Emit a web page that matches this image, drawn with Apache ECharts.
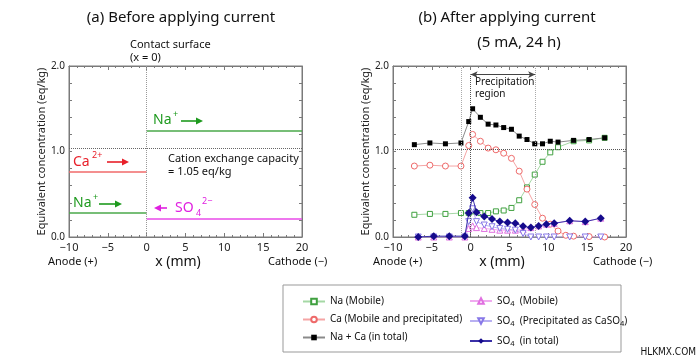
<!DOCTYPE html>
<html><head><meta charset="utf-8">
<script src="https://cdn.jsdelivr.net/npm/echarts@6/dist/echarts.min.js"></script>
<style>html,body{margin:0;padding:0;background:#fff}#c{width:700px;height:364px}</style>
</head><body><div id="c"></div>
<script>
// ---------- data ----------
const xTickLabels = [-10, -5, 0, 5, 10, 15, 20];
const yTickLabels = [0, 1, 2];
// (a) before applying current
const aNaLeftX = [-10, 0],  aNaLeft = [0.28, 0.28];
const aCaLeftX = [-10, 0],  aCaLeft = [0.76, 0.76];
const aNaRightX = [0, 20],  aNaRight = [1.24, 1.24];
const aSO4RightX = [0, 20], aSO4Right = [0.21, 0.21];
const aCEC = 1.04;
const aContactX = 0;
// (b) after applying current
const xCation = [-7.25, -5.25, -3.25, -1.25, -0.25, 0.25, 1.25, 2.25, 3.25, 4.25, 5.25, 6.25, 7.25, 8.25, 9.25, 10.25, 11.25, 13.25, 15.25, 17.25];
const naMobile = [0.26, 0.27, 0.27, 0.28, 0.28, 0.30, 0.28, 0.28, 0.30, 0.31, 0.34, 0.43, 0.58, 0.73, 0.88, 0.99, 1.05, 1.12, 1.13, 1.16];
const naCaTotal = [1.08, 1.10, 1.09, 1.10, 1.35, 1.50, 1.40, 1.32, 1.31, 1.28, 1.26, 1.18, 1.14, 1.09, 1.09, 1.12, 1.11, 1.13, 1.14, 1.16];
const xCa = [-7.25, -5.25, -3.25, -1.25, -0.25, 0.25, 1.25, 2.25, 3.25, 4.25, 5.25, 6.25, 7.25, 8.25, 9.25, 10.25, 11.25, 12.25, 13.25, 15.25, 17.25];
const caMobPrec = [0.83, 0.84, 0.83, 0.83, 1.07, 1.20, 1.12, 1.04, 1.02, 0.98, 0.92, 0.77, 0.56, 0.38, 0.22, 0.15, 0.07, 0.02, 0.01, 0.005, 0.0];
const xSO4 = [-6.75, -4.75, -2.75, -0.75, -0.25, 0.25, 0.75, 1.75, 2.75, 3.75, 4.75, 5.75, 6.75, 7.75, 8.75, 9.75, 10.75, 12.75, 14.75, 16.75];
const so4Mobile = [0, 0, 0, 0, 0.10, 0.13, 0.11, 0.10, 0.09, 0.08, 0.08, 0.08, 0.085, 0.11, 0.13, 0.15, 0.16, 0.19, 0.18, 0.22];
const so4Precip = [0, 0, 0, 0, 0.18, 0.33, 0.18, 0.14, 0.12, 0.10, 0.09, 0.08, 0.04, 0, 0, 0, 0, 0, 0, 0];
const so4Total = [0.0, 0.01, 0.01, 0.01, 0.28, 0.46, 0.29, 0.24, 0.21, 0.18, 0.17, 0.16, 0.125, 0.11, 0.13, 0.15, 0.16, 0.19, 0.18, 0.22];
const bCEC = 1.03;
const bRegionLeft = -1.2, bRegionRight = 8.3, bArrowY = 1.9;

const names = ['Na (Mobile)', 'Ca (Mobile and precipitated)', 'Na + Ca (in total)',
               'SO4 (Mobile)', 'SO4 (Precipitated as CaSO4)', 'SO4 (in total)'];

// ---------- helpers ----------
const FONT = '"Noto Sans", "DejaVu Sans", sans-serif';
const pts = (xs, ys) => xs.map((x, i) => [x, ys[i]]);
const fmtX = v => (v < 0 ? '\u2212' + Math.abs(v) : '' + v);
const fmtY = v => {
  const r = Math.round(v);
  return (Math.abs(v - r) < 1e-6 && yTickLabels.indexOf(r) >= 0) ? r.toFixed(1) : '';
};
const AX = '#7a7a7a';
function xAx(grid, pos, showLabel) {
  return {
    type: 'value', gridIndex: grid, position: pos, min: -10, max: 20, interval: 5,
    axisLine: {show: true, onZero: false, lineStyle: {color: AX}},
    axisTick: {show: true, inside: true, length: 4, lineStyle: {color: AX}},
    minorTick: {show: true, splitNumber: 5, length: 2, lineStyle: {color: AX}},
    splitLine: {show: false},
    axisLabel: {show: showLabel, color: '#222', fontSize: 11, margin: 5, fontFamily: FONT,
      formatter: v => xTickLabels.indexOf(v) >= 0 ? fmtX(v) : ''}
  };
}
function yAx(grid, pos, showLabel) {
  return {
    type: 'value', gridIndex: grid, position: pos, min: 0, max: 2, interval: 0.2,
    axisLine: {show: true, onZero: false, lineStyle: {color: AX}},
    axisTick: {show: true, inside: true, length: 3, lineStyle: {color: AX}},
    splitLine: {show: false},
    axisLabel: {show: showLabel, color: '#222', fontSize: 10, margin: 4, fontFamily: FONT, formatter: fmtY},
    name: showLabel ? 'Equivalent concentration (eq/kg)' : '',
    nameLocation: 'middle', nameGap: 22, nameRotate: 90,
    nameTextStyle: {fontSize: 11, color: '#222', fontFamily: FONT}
  };
}
function T(x, y, text, o) {
  return {type: 'text', x: x, y: y, silent: true,
    style: Object.assign({text: text, fill: '#111', font: '11px ' + FONT, textAlign: 'left', textVerticalAlign: 'middle'}, (o || {}))};
}
function arrow(x1, x2, y, color) {
  const dir = x2 > x1 ? 1 : -1, hl = 7, hw = 3.5;
  return {type: 'group', silent: true, children: [
    {type: 'line', shape: {x1: x1, y1: y, x2: x2 - dir * hl, y2: y}, style: {stroke: color, lineWidth: 1.6}},
    {type: 'polygon', shape: {points: [[x2, y], [x2 - dir * hl, y - hw], [x2 - dir * hl, y + hw]]}, style: {fill: color}}
  ]};
}
function seg(x1, y1, x2, y2, color) {
  return [{coord: [x1, y1], lineStyle: {color: color, type: 'dotted', width: 1}}, {coord: [x2, y2]}];
}
const GREEN = '#1e9a1e', RED = '#e8202a', MAG = '#e020e0';

const option = {
  backgroundColor: '#fff',
  animation: false,
  textStyle: {fontFamily: FONT},
  grid: [
    {left: 69, top: 66, width: 233, height: 171, show: true, borderColor: AX, borderWidth: 1},
    {left: 393, top: 66, width: 233, height: 171, show: true, borderColor: AX, borderWidth: 1}
  ],
  xAxis: [xAx(0, 'bottom', true), xAx(0, 'top', false), xAx(1, 'bottom', true), xAx(1, 'top', false)],
  yAxis: [yAx(0, 'left', true), yAx(0, 'right', false), yAx(1, 'left', true), yAx(1, 'right', false)],
  legend: [
    {data: names.slice(0, 3), orient: 'vertical', left: 297, top: 290, itemWidth: 22, itemHeight: 7, itemGap: 5,
     textStyle: {fontSize: 10, color: '#111', fontFamily: FONT, lineHeight: 13}},
    {data: names.slice(3), orient: 'vertical', left: 464, top: 288, itemWidth: 22, itemHeight: 7, itemGap: 4,
     formatter: n => n.replace(/SO4/g, 'SO{s|4}').replace('SO{s|4} (', 'SO{s|4}  ('),
     textStyle: {fontSize: 10, color: '#111', fontFamily: FONT, lineHeight: 16,
       rich: {s: {fontSize: 7.5, fontFamily: FONT, color: '#111', padding: [6, 0, 0, 0]}}}}
  ],
  series: [
    // (a)
    {type: 'line', xAxisIndex: 0, yAxisIndex: 0, data: pts(aNaLeftX, aNaLeft), symbol: 'none', lineStyle: {color: '#4aa84a', width: 1.5}, silent: true},
    {type: 'line', xAxisIndex: 0, yAxisIndex: 0, data: pts(aCaLeftX, aCaLeft), symbol: 'none', lineStyle: {color: '#f06a6a', width: 1.5}, silent: true},
    {type: 'line', xAxisIndex: 0, yAxisIndex: 0, data: pts(aNaRightX, aNaRight), symbol: 'none', lineStyle: {color: '#4aa84a', width: 1.5}, silent: true},
    {type: 'line', xAxisIndex: 0, yAxisIndex: 0, data: pts(aSO4RightX, aSO4Right), symbol: 'none', lineStyle: {color: '#e84ae8', width: 1.5}, silent: true},
    {type: 'line', xAxisIndex: 0, yAxisIndex: 0, data: [], silent: true,
     markLine: {silent: true, symbol: 'none', label: {show: false}, animation: false,
       data: [seg(aContactX, 0, aContactX, 2, '#999'), seg(-10, aCEC, 20, aCEC, '#666')]}},
    // (b) reference lines
    {type: 'line', xAxisIndex: 2, yAxisIndex: 2, data: [], silent: true,
     markLine: {silent: true, symbol: 'none', label: {show: false}, animation: false,
       data: [seg(bRegionLeft, 0, bRegionLeft, 2, '#aaa'), seg(bRegionRight, 0, bRegionRight, 2, '#aaa'),
              seg(0, 0, 0, bArrowY, '#555'), seg(-10, bCEC, 20, bCEC, '#555'),
              [{coord: [0, bArrowY], symbol: 'arrow', symbolSize: [5, 7], lineStyle: {color: '#444', type: 'solid', width: 1}},
               {coord: [bRegionRight, bArrowY], symbol: 'arrow', symbolSize: [5, 7]}]]}},
    // (b) data
    {name: names[0], type: 'line', xAxisIndex: 2, yAxisIndex: 2, data: pts(xCation, naMobile),
     symbol: 'rect', symbolSize: 5, lineStyle: {color: '#a5d8a5', width: 1},
     itemStyle: {color: '#fff', borderColor: '#3fa03f', borderWidth: 1}},
    {name: names[1], type: 'line', xAxisIndex: 2, yAxisIndex: 2, data: pts(xCa, caMobPrec),
     symbol: 'circle', symbolSize: 6, lineStyle: {color: '#f5a5a5', width: 1},
     itemStyle: {color: '#fff', borderColor: '#ee6a6a', borderWidth: 1}},
    {name: names[2], type: 'line', xAxisIndex: 2, yAxisIndex: 2, data: pts(xCation, naCaTotal),
     symbol: 'rect', symbolSize: 5, lineStyle: {color: '#8a8a8a', width: 1},
     itemStyle: {color: '#000', borderColor: '#000', borderWidth: 0}},
    {name: names[3], type: 'line', xAxisIndex: 2, yAxisIndex: 2, data: pts(xSO4, so4Mobile),
     symbol: 'triangle', symbolSize: 6, lineStyle: {color: '#f0aaf0', width: 1},
     itemStyle: {color: '#fff', borderColor: '#e070e0', borderWidth: 1}},
    {name: names[4], type: 'line', xAxisIndex: 2, yAxisIndex: 2, data: pts(xSO4, so4Precip),
     symbol: 'triangle', symbolRotate: 180, symbolSize: 6, lineStyle: {color: '#b8b0f2', width: 1},
     itemStyle: {color: '#fff', borderColor: '#8878e8', borderWidth: 1}},
    {name: names[5], type: 'line', xAxisIndex: 2, yAxisIndex: 2, data: pts(xSO4, so4Total), z: 5,
     symbol: 'diamond', symbolSize: 8, lineStyle: {color: '#3a30a8', width: 1},
     itemStyle: {color: '#150a8c', borderWidth: 0}}
  ],
  graphic: [
    // titles
    T(181, 18, '(a) Before applying current', {font: '15px ' + FONT, textAlign: 'center', fill: '#111'}),
    T(507, 18, '(b) After applying current', {font: '15px ' + FONT, textAlign: 'center', fill: '#111'}),
    T(519, 43, '(5 mA, 24 h)', {font: '15px ' + FONT, textAlign: 'center', fill: '#111'}),
    // (a) annotations
    T(130, 45, 'Contact surface'), T(130, 58, '(x = 0)'),
    T(153, 120, 'Na', {font: '14px ' + FONT, fill: GREEN}), T(173, 114, '+', {font: '9px ' + FONT, fill: GREEN}),
    arrow(181, 203, 121, GREEN),
    T(73, 162, 'Ca', {font: '14px ' + FONT, fill: RED}), T(92, 155, '2+', {font: '9px ' + FONT, fill: RED}),
    arrow(107, 129, 162, RED),
    T(73, 203, 'Na', {font: '14px ' + FONT, fill: GREEN}), T(93, 197, '+', {font: '9px ' + FONT, fill: GREEN}),
    arrow(99, 122, 204, GREEN),
    arrow(167, 154, 208, MAG),
    T(175, 208, 'SO', {font: '14px ' + FONT, fill: MAG}), T(196, 213, '4', {font: '9px ' + FONT, fill: MAG}),
    T(202, 201, '2\u2212', {font: '9px ' + FONT, fill: MAG}),
    T(168, 159, 'Cation exchange capacity'), T(168, 172, '= 1.05 eq/kg'),
    T(48, 262, 'Anode (+)'), T(178, 262, 'x (mm)', {font: '14px ' + FONT, textAlign: 'center'}),
    T(268, 262, 'Cathode (\u2212)'),
    // (b) annotations
    T(475, 82, 'Precipitation', {font: '10px ' + FONT}), T(475, 94, 'region', {font: '10px ' + FONT}),
    T(373, 262, 'Anode (+)'), T(502, 262, 'x (mm)', {font: '14px ' + FONT, textAlign: 'center'}),
    T(593, 262, 'Cathode (\u2212)'),
    // legend frame
    {type: 'rect', shape: {x: 283, y: 285, width: 338, height: 67}, style: {fill: 'none', stroke: '#999', lineWidth: 1}, silent: true, z: -1},
    T(696, 352, 'HLKMX.COM', {font: '10px "Liberation Sans Narrow", "DejaVu Sans Condensed", sans-serif', textAlign: 'right'})
  ]
};
const chart = echarts.init(document.getElementById('c'), null, {renderer: 'canvas'});
chart.setOption(option);
</script></body></html>
